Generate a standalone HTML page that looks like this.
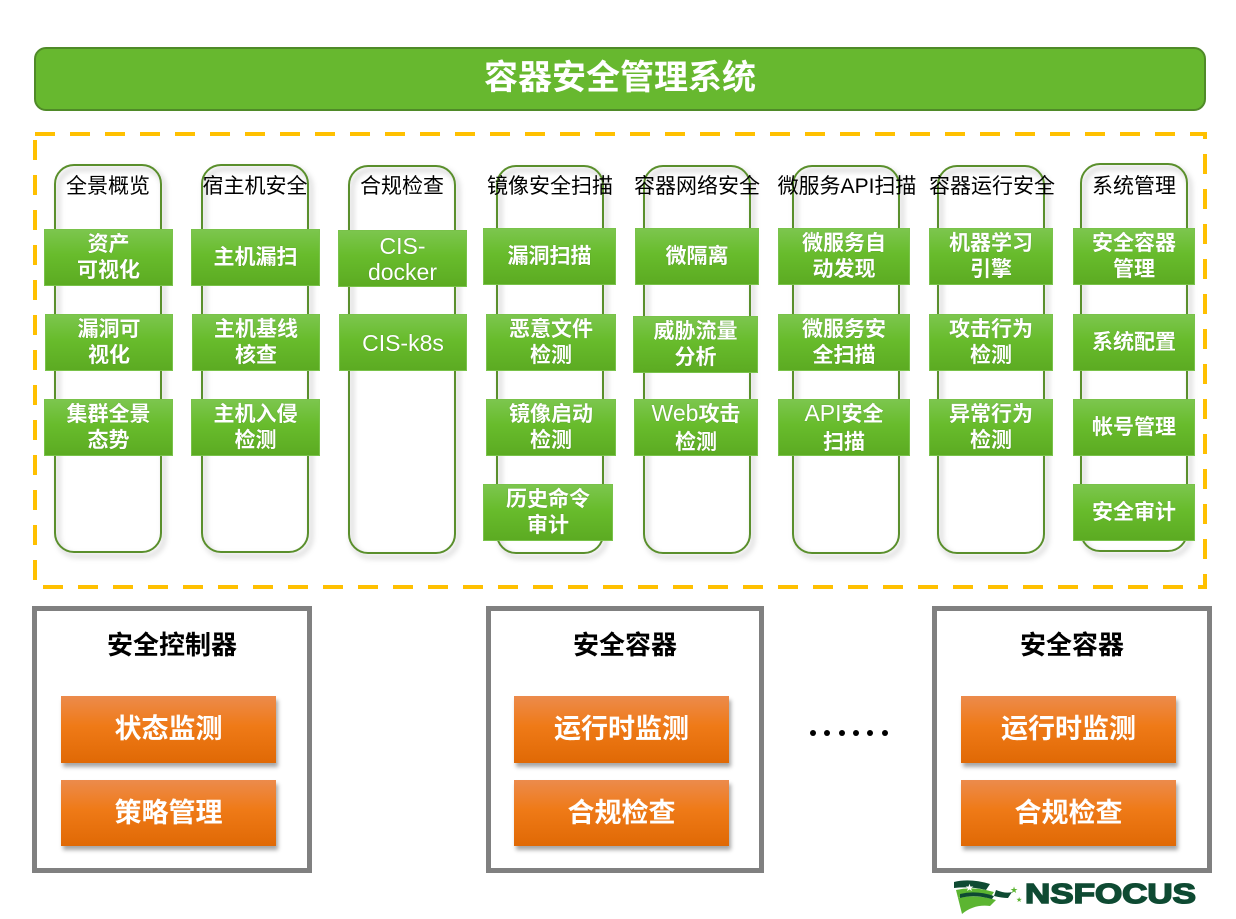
<!DOCTYPE html>
<html><head><meta charset="utf-8">
<style>
*{margin:0;padding:0;box-sizing:border-box}
body{width:1236px;height:919px;background:#fff;position:relative;overflow:hidden;font-family:"Liberation Sans","Noto Sans CJK SC",sans-serif}
.abs{position:absolute}
.topbar{left:34px;top:47px;width:1172px;height:64px;background:#67b82f;border:2px solid #4f8a28;border-radius:12px;color:#fff;font-size:34px;font-weight:bold;text-align:center;line-height:58px}
.col{position:absolute;top:164px;width:108px;height:389px;border:2.5px solid #5a8f2c;border-radius:20px;filter:drop-shadow(3px 4px 3px rgba(0,0,0,0.3))}
.hd{position:absolute;top:174px;width:160px;text-align:center;font-size:21px;color:#000;line-height:26px;white-space:nowrap}
.gb{position:absolute;height:57px;background:linear-gradient(#7cc64e 0%,#68bc2c 45%,#5cab22 100%);border:1px solid #79c24a;color:#fff;font-size:21px;font-weight:bold;text-align:center;display:flex;align-items:center;justify-content:center;line-height:26px;text-shadow:0 0 1px rgba(0,0,0,0.25)}
.gb.en{font-weight:normal;font-size:23px}
.gb.en b{font-size:21px}
.gray{position:absolute;top:606px;width:280px;height:267px;border:5px solid #808080;background:#fff}
.gt{position:absolute;top:628px;width:280px;text-align:center;font-size:26px;font-weight:bold;color:#000;line-height:34px}
.ob{position:absolute;width:215px;height:67px;background:linear-gradient(#ec8b4c 0%,#ef7a17 45%,#e06905 100%);color:#fff;font-size:27px;font-weight:bold;text-align:center;line-height:67px;box-shadow:2px 4px 4px rgba(0,0,0,0.35)}
.dot{position:absolute;top:730px;width:6px;height:6px;border-radius:50%;background:#000}
</style></head><body>

<div class="abs topbar">容器安全管理系统</div>

<svg class="abs" style="left:0;top:0" width="1236" height="919">
<rect x="35" y="134" width="1170" height="453" fill="none" stroke="#ffc000" stroke-width="4" stroke-dasharray="20 15"/>
</svg>

<!-- columns -->
<div class="col" style="left:54px"></div>
<div class="col" style="left:201px"></div>
<div class="col" style="left:348px;top:165px"></div>
<div class="col" style="left:496px;top:165px"></div>
<div class="col" style="left:643px;top:165px"></div>
<div class="col" style="left:792px;top:165px"></div>
<div class="col" style="left:937px;top:165px"></div>
<div class="col" style="left:1080px;top:163px"></div>

<div class="hd" style="left:28px">全景概览</div>
<div class="hd" style="left:175px">宿主机安全</div>
<div class="hd" style="left:322px">合规检查</div>
<div class="hd" style="left:470px">镜像安全扫描</div>
<div class="hd" style="left:617px">容器网络安全</div>
<div class="hd" style="left:772px;width:150px">微服务API扫描</div>
<div class="hd" style="left:917px;width:150px">容器运行安全</div>
<div class="hd" style="left:1054px">系统管理</div>

<!-- col1 -->
<div class="gb" style="left:44px;top:229px;width:129px">资产<br>可视化</div>
<div class="gb" style="left:45px;top:314px;width:128px">漏洞可<br>视化</div>
<div class="gb" style="left:44px;top:399px;width:129px">集群全景<br>态势</div>
<!-- col2 -->
<div class="gb" style="left:191px;top:229px;width:129px">主机漏扫</div>
<div class="gb" style="left:192px;top:314px;width:128px">主机基线<br>核查</div>
<div class="gb" style="left:191px;top:399px;width:129px">主机入侵<br>检测</div>
<!-- col3 -->
<div class="gb en" style="left:338px;top:230px;width:129px">CIS-<br>docker</div>
<div class="gb en" style="left:339px;top:314px;width:128px">CIS-k8s</div>
<!-- col4 -->
<div class="gb" style="left:483px;top:228px;width:133px">漏洞扫描</div>
<div class="gb" style="left:486px;top:314px;width:130px">恶意文件<br>检测</div>
<div class="gb" style="left:486px;top:399px;width:130px">镜像启动<br>检测</div>
<div class="gb" style="left:483px;top:484px;width:130px">历史命令<br>审计</div>
<!-- col5 -->
<div class="gb" style="left:635px;top:228px;width:124px">微隔离</div>
<div class="gb" style="left:633px;top:316px;width:125px">威胁流量<br>分析</div>
<div class="gb en" style="left:634px;top:399px;width:124px"><span>Web<b>攻击</b><br><b>检测</b></span></div>
<!-- col6 -->
<div class="gb" style="left:778px;top:228px;width:132px">微服务自<br>动发现</div>
<div class="gb" style="left:778px;top:314px;width:132px">微服务安<br>全扫描</div>
<div class="gb en" style="left:778px;top:399px;width:132px"><span>API<b>安全</b><br><b>扫描</b></span></div>
<!-- col7 -->
<div class="gb" style="left:929px;top:228px;width:124px">机器学习<br>引擎</div>
<div class="gb" style="left:929px;top:314px;width:124px">攻击行为<br>检测</div>
<div class="gb" style="left:929px;top:399px;width:124px">异常行为<br>检测</div>
<!-- col8 -->
<div class="gb" style="left:1073px;top:228px;width:122px">安全容器<br>管理</div>
<div class="gb" style="left:1073px;top:314px;width:122px">系统配置</div>
<div class="gb" style="left:1073px;top:399px;width:122px">帐号管理</div>
<div class="gb" style="left:1073px;top:484px;width:122px">安全审计</div>

<!-- bottom -->
<div class="gray" style="left:32px"></div>
<div class="gt" style="left:32px">安全控制器</div>
<div class="ob" style="left:61px;top:696px">状态监测</div>
<div class="ob" style="left:61px;top:780px;height:66px;line-height:66px">策略管理</div>

<div class="gray" style="left:486px;width:278px"></div>
<div class="gt" style="left:486px;width:278px">安全容器</div>
<div class="ob" style="left:514px;top:696px">运行时监测</div>
<div class="ob" style="left:514px;top:780px;height:66px;line-height:66px">合规检查</div>

<div class="gray" style="left:932px"></div>
<div class="gt" style="left:932px">安全容器</div>
<div class="ob" style="left:961px;top:696px">运行时监测</div>
<div class="ob" style="left:961px;top:780px;height:66px;line-height:66px">合规检查</div>

<div class="dot" style="left:810px"></div>
<div class="dot" style="left:824px"></div>
<div class="dot" style="left:839px"></div>
<div class="dot" style="left:853px"></div>
<div class="dot" style="left:867px"></div>
<div class="dot" style="left:882px"></div>

<!-- logo -->
<svg class="abs" style="left:950px;top:876px" width="250" height="40">
<path d="M4 6 Q20 2 40 8 L36 14 Q20 10 4 12 Z" fill="#0e4a32"/>
<path d="M6 14 Q24 10 44 16 L40 22 Q22 18 8 22 Z" fill="#5cb531"/>
<path d="M8 22 Q26 18 46 24 L40 30 Q24 28 12 38 Z" fill="#5cb531"/>
<path d="M10 18 Q26 14 44 20 L42 23 Q24 18 10 22 Z" fill="#0e4a32"/>
<path d="M46 14 Q56 18 62 16 L58 22 Q52 22 44 20 Z" fill="#0e4a32"/>
<text x="15" y="15" font-size="10" fill="#fff" font-family="DejaVu Sans">★</text>
<text x="60" y="17" font-size="9" fill="#5cb531" font-family="DejaVu Sans">★</text>
<text x="66" y="26" font-size="7" fill="#5cb531" font-family="DejaVu Sans">★</text>
<text x="75" y="27" font-family="Liberation Sans" font-weight="bold" font-size="28" fill="#0e4a32" textLength="171" lengthAdjust="spacingAndGlyphs" stroke="#0e4a32" stroke-width="1.5">NSFOCUS</text>
</svg>

</body></html>
